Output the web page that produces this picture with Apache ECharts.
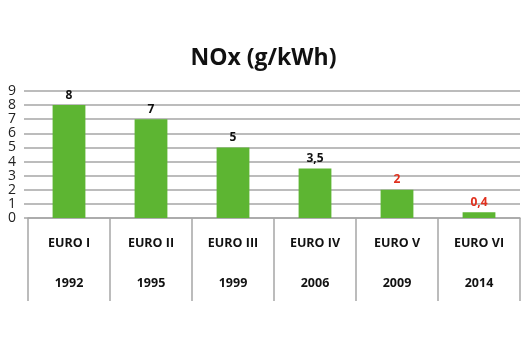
<!DOCTYPE html>
<html>
<head>
<meta charset="utf-8">
<script src="https://cdn.jsdelivr.net/npm/echarts@6/dist/echarts.min.js"></script>
<style>
  html, body { margin: 0; padding: 0; background: #fff; }
  #chart { width: 527px; height: 351px; }
</style>
</head>
<body>
<div id="chart"></div>
<script>
  // data
  const standards = ['EURO I', 'EURO II', 'EURO III', 'EURO IV', 'EURO V', 'EURO VI'];
  const years = ['1992', '1995', '1999', '2006', '2009', '2014'];
  const nox = [8, 7, 5, 3.5, 2, 0.4];
  const labelRed = [false, false, false, false, true, true];

  const chart = echarts.init(document.getElementById('chart'));

  chart.setOption({
    backgroundColor: '#fff',
    title: {
      text: 'NOx (g/kWh)',
      left: 'center',
      top: 42,
      textStyle: { fontFamily: 'Open Sans', fontWeight: 'bold', fontSize: 23, color: '#111' }
    },
    grid: { left: 28, right: 7, top: 91, bottom: 133 },
    xAxis: {
      type: 'category',
      data: standards,
      axisLine: { lineStyle: { color: '#a6a6a6', width: 1.5 } },
      axisTick: { show: true, interval: 0, length: 83, lineStyle: { color: '#a6a6a6', width: 1.5 } },
      axisLabel: {
        interval: 0,
        margin: 5,
        formatter: function (v, i) {
          return '{a|' + v + '}\n{b|' + years[i] + '}';
        },
        rich: {
          a: { fontFamily: 'Open Sans', fontWeight: 'bold', fontSize: 12.5, color: '#111', lineHeight: 40, align: 'center' },
          b: { fontFamily: 'Open Sans', fontWeight: 'bold', fontSize: 12.5, color: '#111', lineHeight: 40, align: 'center' }
        }
      }
    },
    yAxis: {
      type: 'value',
      min: 0,
      max: 9,
      interval: 1,
      axisLine: { show: false },
      axisTick: { show: true, length: 4, lineStyle: { color: '#a6a6a6', width: 1.5 } },
      axisLabel: { margin: 12, fontFamily: 'Open Sans', fontSize: 14, color: '#222' },
      splitLine: { lineStyle: { color: '#a6a6a6', width: 1.5 } }
    },
    series: [{
      type: 'bar',
      data: nox.map(function (v, i) {
        return {
          value: v,
          label: { color: labelRed[i] ? '#e0301e' : '#111' }
        };
      }),
      barWidth: '40%',
      itemStyle: { color: '#5db532' },
      label: {
        show: true,
        position: 'top',
        distance: 4,
        fontFamily: 'Open Sans',
        fontWeight: 'bold',
        fontSize: 12,
        formatter: function (p) { return String(p.value).replace('.', ','); }
      }
    }],
    animation: false
  });
</script>
</body>
</html>
